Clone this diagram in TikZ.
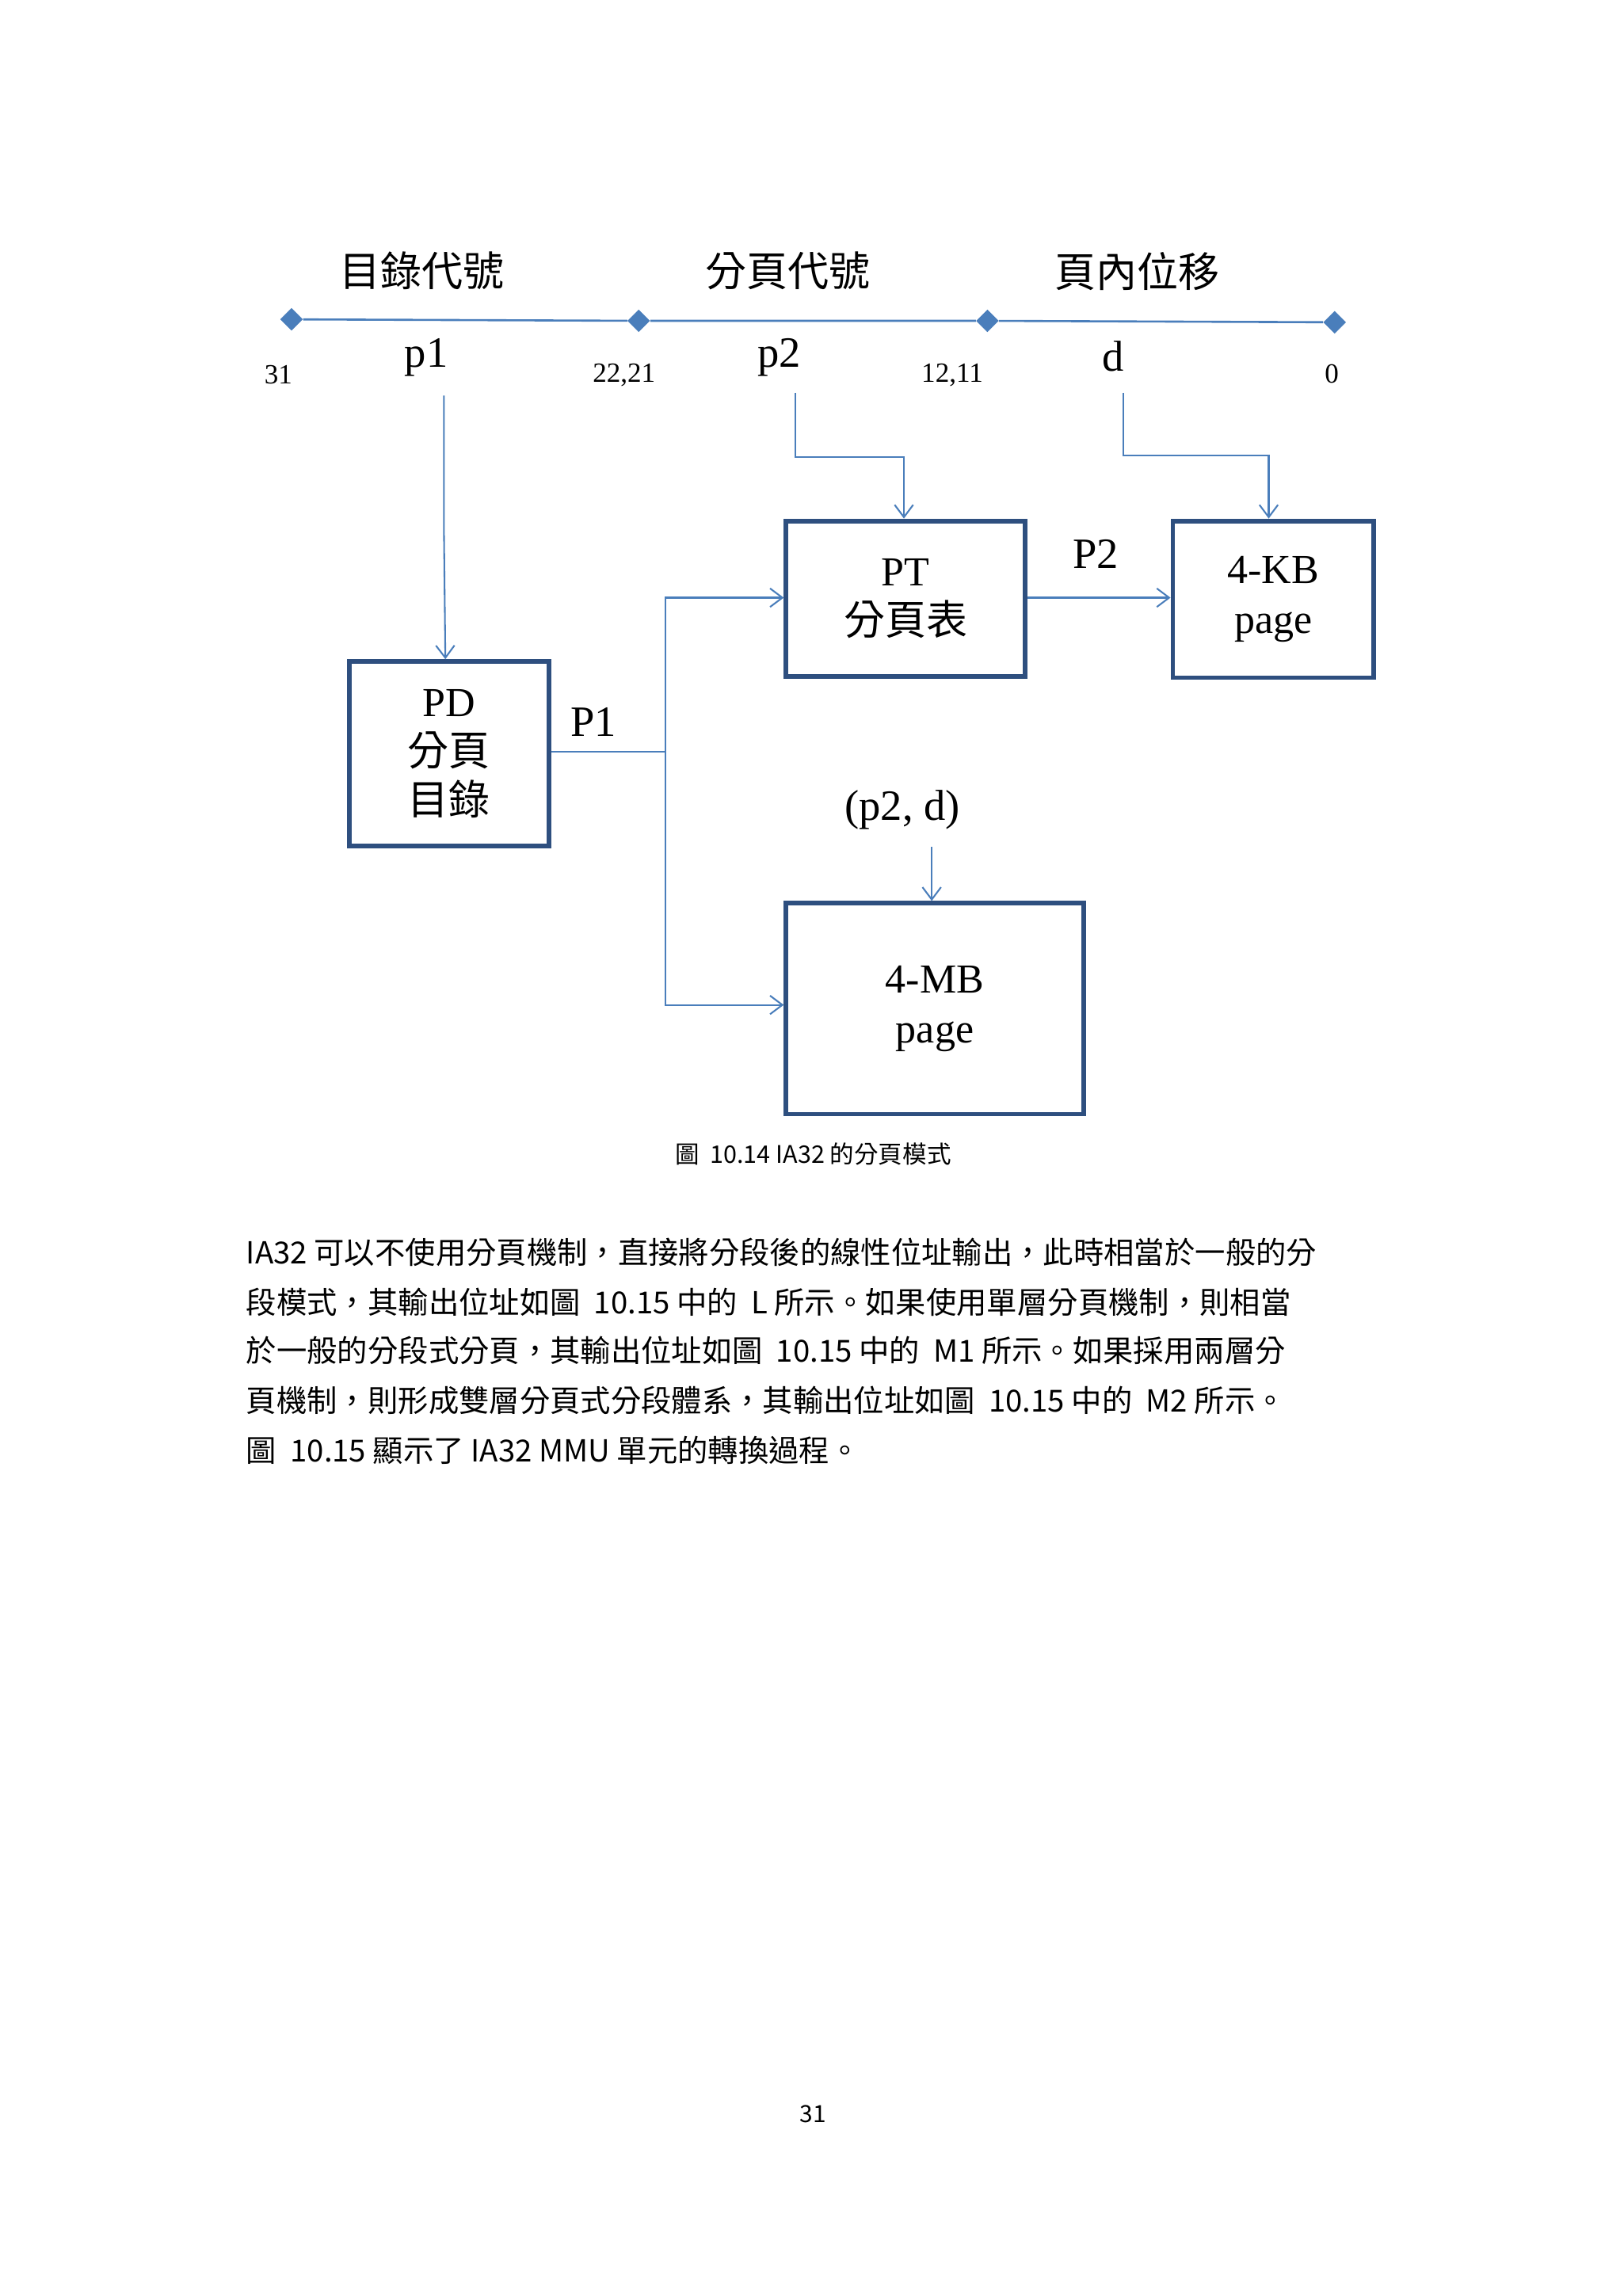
\documentclass[tikz,border=0pt]{standalone}
\usepackage{fontspec}
\setmainfont{Liberation Serif}
\newfontfamily\cjk{Noto Sans CJK TC}
\usetikzlibrary{shapes.geometric,arrows.meta}
\definecolor{ln}{HTML}{4A7EBB}
\definecolor{bx}{HTML}{2E4F7F}
\tikzset{
 conn/.style={ln,line width=1.6pt},
 arr/.style={conn,-{Straight Barb[length=12pt,width=18pt]}},
 box/.style={draw=bx,line width=4.5pt,align=center,inner sep=0pt,anchor=north west,font=\fontsize{40}{52}\selectfont},
 dia/.style={diamond,fill=ln,minimum size=22pt,inner sep=0pt},
 big/.style={font=\fontsize{42}{52}\selectfont},
 head/.style={font=\cjk\fontsize{40}{48}\selectfont},
 num/.style={font=\fontsize{27}{32}\selectfont},
 txt/.style={font=\cjk\fontsize{29.5}{36}\selectfont,anchor=west,inner sep=0pt},
}
\newcommand{\cj}[1]{{\cjk #1}}
\begin{document}
\begin{tikzpicture}[x=0.05cm,y=-0.05cm]
\useasboundingbox[fill=white] (0,0) rectangle (1108,1566);
\node[head] (h1) at (288,185) {目錄代號};
\node[head] (h2) at (538,185) {分頁代號};
\node[head] (h3) at (776,185) {頁內位移};
\node[dia] (d1) at (199,218) {};
\node[dia] (d2) at (436,219) {};
\node[dia] (d3) at (674,219) {};
\node[dia] (d4) at (911,220) {};
\draw[conn,line width=2pt] (d1)--(d2)--(d3)--(d4);
\node[num] (n31) at (190,256) {31};
\node[num] (n22) at (426,256) {22,21};
\node[num] (n12) at (650,256) {12,11};
\node[num] (n0) at (909,255) {0};
\node[big] (p1) at (291,244) {p1};
\node[big] (p2) at (532,244) {p2};
\node[big] (d) at (760,243) {d};
% boxes
\node[box,minimum width=8.15cm,minimum height=5.3cm] (pt) at (535,354) {PT\\[-4pt]\cj{分頁表}};
\node[box,minimum width=6.85cm,minimum height=5.35cm] (kb) at (799,354) {4-KB\\[-4pt]page};
\node[box,minimum width=6.8cm,minimum height=6.3cm] (pd) at (237,450) {PD\\[-4pt]\cj{分頁}\\[-4pt]\cj{目錄}};
\node[box,minimum width=10.15cm,minimum height=7.2cm] (mb) at (535,615) {4-MB\\[-4pt]page};
% connectors
\coordinate (a1) at (303,270);
\draw[arr] (a1) -- (303,360) -- (pd.north -| 304,0);
\coordinate (a2) at (543,268);
\draw[arr] (a2) -- (543,312) -- (617,312) -- (pt.north -| 617,0);
\coordinate (a3) at (767,268);
\draw[arr] (a3) -- (767,311) -- (866,311) -- (kb.north -| 866,0);
\coordinate (j) at (454,513);
\draw[conn] (pd.east |- j) -- (j);
\draw[arr] (j) -- (454,408) -- (pt.west |- 0,408);
\draw[arr] (j) -- (454,686) -- (mb.west |- 0,686);
\draw[arr] (pt.east |- 0,408) -- (kb.west |- 0,408);
\node[big] (lp2) at (748,378) {P2};
\node[big] (lp1) at (405,493) {P1};
\node[big] (pd2) at (616,553) {(p2, d)};
\coordinate (a4) at (636,578);
\draw[arr] (a4) -- (mb.north -| 636,0);
% caption and text
\node[font=\cjk\fontsize{23.5}{28}\selectfont] (cap) at (555,788) {圖\ \ 10.14 IA32 的分頁模式};
\node[txt] (t1) at (168,855) {IA32 可以不使用分頁機制，直接將分段後的線性位址輸出，此時相當於一般的分};
\node[txt] (t2) at (168,889) {段模式，其輸出位址如圖\ \ 10.15 中的\ \ L 所示。如果使用單層分頁機制，則相當};
\node[txt] (t3) at (168,922) {於一般的分段式分頁，其輸出位址如圖\ \ 10.15 中的\ \ M1 所示。如果採用兩層分};
\node[txt] (t4) at (168,956) {頁機制，則形成雙層分頁式分段體系，其輸出位址如圖\ \ 10.15 中的\ \ M2 所示。};
\node[txt] (t5) at (168,990) {圖\ \ 10.15 顯示了 IA32 MMU 單元的轉換過程。};
\node[font=\cjk\fontsize{23}{28}\selectfont] (pg) at (555,1443) {31};
\end{tikzpicture}
\end{document}
